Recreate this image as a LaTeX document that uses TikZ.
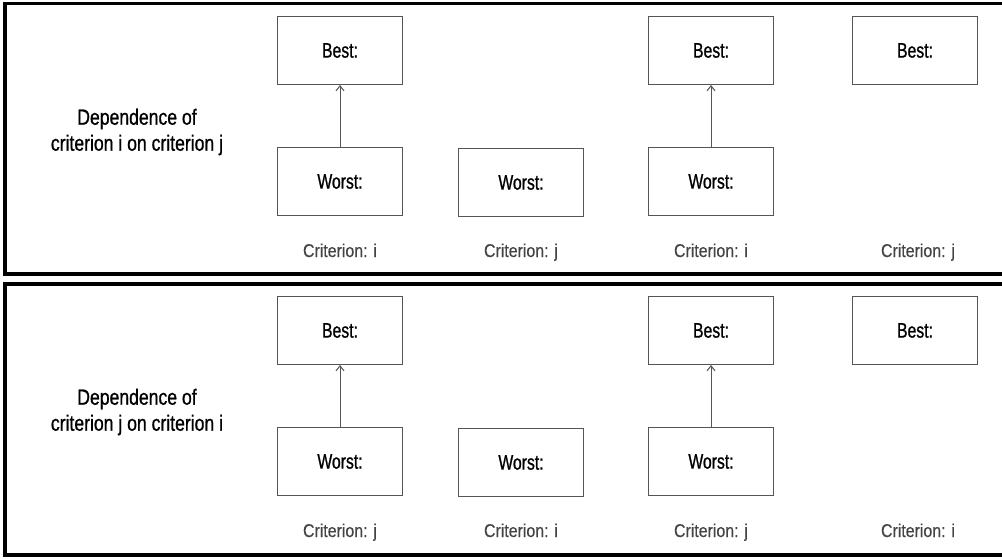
\documentclass[tikz,border=0pt]{standalone}
\usepackage{fontspec}
\setmainfont[FakeStretch=0.8,FakeBold=0.8]{Liberation Sans}
\newfontfamily\boxfont[FakeStretch=0.75,FakeBold=0.9]{Liberation Sans}
\newfontfamily\captionfont[FakeStretch=0.86,FakeBold=0.3]{Liberation Sans}
\usetikzlibrary{arrows.meta}
\definecolor{boxline}{HTML}{555555}
\definecolor{labelgray}{HTML}{444444}
\tikzset{
  panel/.style={draw=black, line width=3.5pt},
  critbox/.style={draw=boxline, line width=1.1pt, minimum width=125pt, minimum height=68pt,
    inner sep=0pt, font=\boxfont\fontsize{21}{24}\selectfont, text=black},
  critlabel/.style={anchor=base, inner sep=0pt, text=labelgray,
    font=\captionfont\fontsize{18.5}{21}\selectfont},
  heading/.style={align=center, inner sep=0pt, font=\fontsize{22}{26}\selectfont, text=black},
  link/.style={draw=boxline, line width=1pt, -{Straight Barb[length=5pt,width=8pt]}}
}
\begin{document}
\begin{tikzpicture}[x=1pt,y=-1pt]
\useasboundingbox (0,0) rectangle (1002,559);
\fill[white] (0,0) rectangle (1002,559);

% panel frames (open to the right)
\begin{scope}
  \clip (0,0) rectangle (1002,559);
  \draw[panel] (5,3.5) rectangle (1015,274);
  \draw[panel] (5,284) rectangle (1015,555);
\end{scope}

% ---- upper panel: dependence of i on j ----
\node[heading] (h1) at (137,132) {Dependence of\\criterion i on criterion j};

\node[critbox] (b1) at (340,50.5) {Best:};
\node[critbox] (w1) at (340,181.5) {Worst:};
\node[critbox] (w2) at (521,182.5) {Worst:};
\node[critbox] (b3) at (711,50.5) {Best:};
\node[critbox] (w3) at (711,181.5) {Worst:};
\node[critbox] (b4) at (915,50.5) {Best:};

\draw[link] (w1) -- (b1);
\draw[link] (w3) -- (b3);

\node[critlabel] (l1) at (340,257) {Criterion: i};
\node[critlabel] (l2) at (521,257) {Criterion: j};
\node[critlabel] (l3) at (711,257) {Criterion: i};
\node[critlabel] (l4) at (918,257) {Criterion: j};

% ---- lower panel: dependence of j on i ----
\node[heading] (h2) at (137,412) {Dependence of\\criterion j on criterion i};

\node[critbox] (B1) at (340,330.5) {Best:};
\node[critbox] (W1) at (340,461.5) {Worst:};
\node[critbox] (W2) at (521,462.5) {Worst:};
\node[critbox] (B3) at (711,330.5) {Best:};
\node[critbox] (W3) at (711,461.5) {Worst:};
\node[critbox] (B4) at (915,330.5) {Best:};

\draw[link] (W1) -- (B1);
\draw[link] (W3) -- (B3);

\node[critlabel] (L1) at (340,537) {Criterion: j};
\node[critlabel] (L2) at (521,537) {Criterion: i};
\node[critlabel] (L3) at (711,537) {Criterion: j};
\node[critlabel] (L4) at (918,537) {Criterion: i};
\end{tikzpicture}
\end{document}
